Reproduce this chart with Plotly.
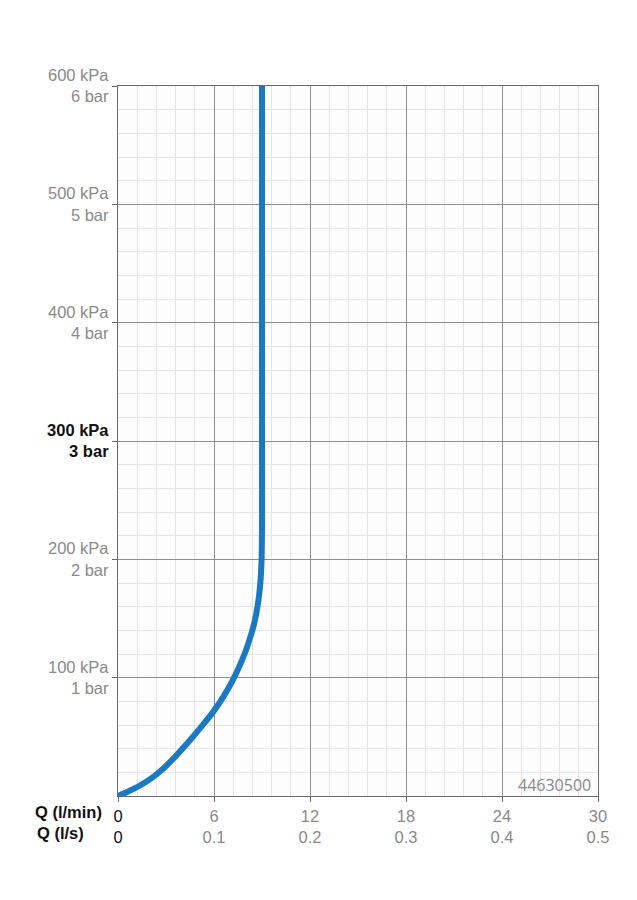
import plotly.graph_objects as go

# Flow (l/min) and pressure (kPa)
flow_lmin = [0, 0.7, 1.4, 2.1, 2.8, 3.6, 4.4, 5.2, 5.96, 6.6, 7.2, 7.7, 8.1, 8.5, 8.75, 8.9, 8.97, 9.0, 9.0]
pressure_kpa = [0, 4.2, 9.1, 15.1, 22.8, 33.6, 45.6, 58.4, 71.3, 84.2, 98.6, 113.1, 127.1, 145.1, 162.6, 180.6, 198, 230, 600]

x_tickvals = [0, 6, 12, 18, 24, 30]
x_lmin_labels = ["0", "6", "12", "18", "24", "30"]
x_ls_labels = ["0", "0.1", "0.2", "0.3", "0.4", "0.5"]

y_tickvals = [100, 200, 300, 400, 500, 600]
y_kpa_labels = ["100 kPa", "200 kPa", "300 kPa", "400 kPa", "500 kPa", "600 kPa"]
y_bar_labels = ["1 bar", "2 bar", "3 bar", "4 bar", "5 bar", "6 bar"]
highlight_kpa = 300

code_label = "44630500"

GRAY = "#8a8a8a"
FONT = "Liberation Sans, Arial"
FS = 16.5

xt = []
for v, a, b in zip(x_tickvals, x_lmin_labels, x_ls_labels):
    if v == 0:
        xt.append(f"<span style='color:#111'>{a}<br>{b}</span>")
    else:
        xt.append(f"{a}<br>{b}")

yt = []
for v, a, b in zip(y_tickvals, y_kpa_labels, y_bar_labels):
    if v == highlight_kpa:
        yt.append(f"<span style='color:#111'><b>{a}<br>{b}</b></span>")
    else:
        yt.append(f"{a}<br>{b}")

fig = go.Figure()
fig.add_trace(go.Scatter(
    x=flow_lmin, y=pressure_kpa, mode="lines",
    line=dict(color="#1b79c3", width=6, shape="spline", smoothing=1.0),
    showlegend=False, hoverinfo="skip",
))

axis_common = dict(
    showline=True, linecolor="#6a6a6a", linewidth=1.3, mirror=True,
    showgrid=True, gridcolor="#8f8f8f", gridwidth=1,
    zeroline=False,
    ticks="outside", ticklen=5, tickcolor="#6a6a6a", tickwidth=1,
    tickfont=dict(family=FONT, size=FS, color=GRAY),
)

fig.update_xaxes(
    range=[0, 30], tickvals=x_tickvals, ticktext=xt,
    minor=dict(dtick=1.2, showgrid=True, gridcolor="#e4e4e4", gridwidth=1, ticks=""),
    **axis_common,
)
fig.update_yaxes(
    range=[0, 600], tickvals=y_tickvals, ticktext=yt,
    minor=dict(dtick=20, showgrid=True, gridcolor="#e4e4e4", gridwidth=1, ticks=""),
    **axis_common,
)

fig.add_annotation(
    text="<b>Q (l/min)</b>", xref="paper", yref="paper",
    x=-0.177, y=-0.0225, xanchor="left", yanchor="middle", showarrow=False,
    font=dict(family=FONT, size=FS, color="#111"),
)
fig.add_annotation(
    text="<b>Q (l/s)</b>", xref="paper", yref="paper",
    x=-0.173, y=-0.052, xanchor="left", yanchor="middle", showarrow=False,
    font=dict(family=FONT, size=FS, color="#111"),
)
fig.add_annotation(
    text=code_label, xref="paper", yref="paper",
    x=0.99, y=0.016, xanchor="right", yanchor="middle", showarrow=False,
    font=dict(family="Open Sans", size=16, color="#888"),
)

fig.update_layout(
    width=629, height=892,
    margin=dict(l=110, r=39, t=78, b=104),
    paper_bgcolor="white", plot_bgcolor="#fdfdfd",
)

fig.write_html("out.html")
